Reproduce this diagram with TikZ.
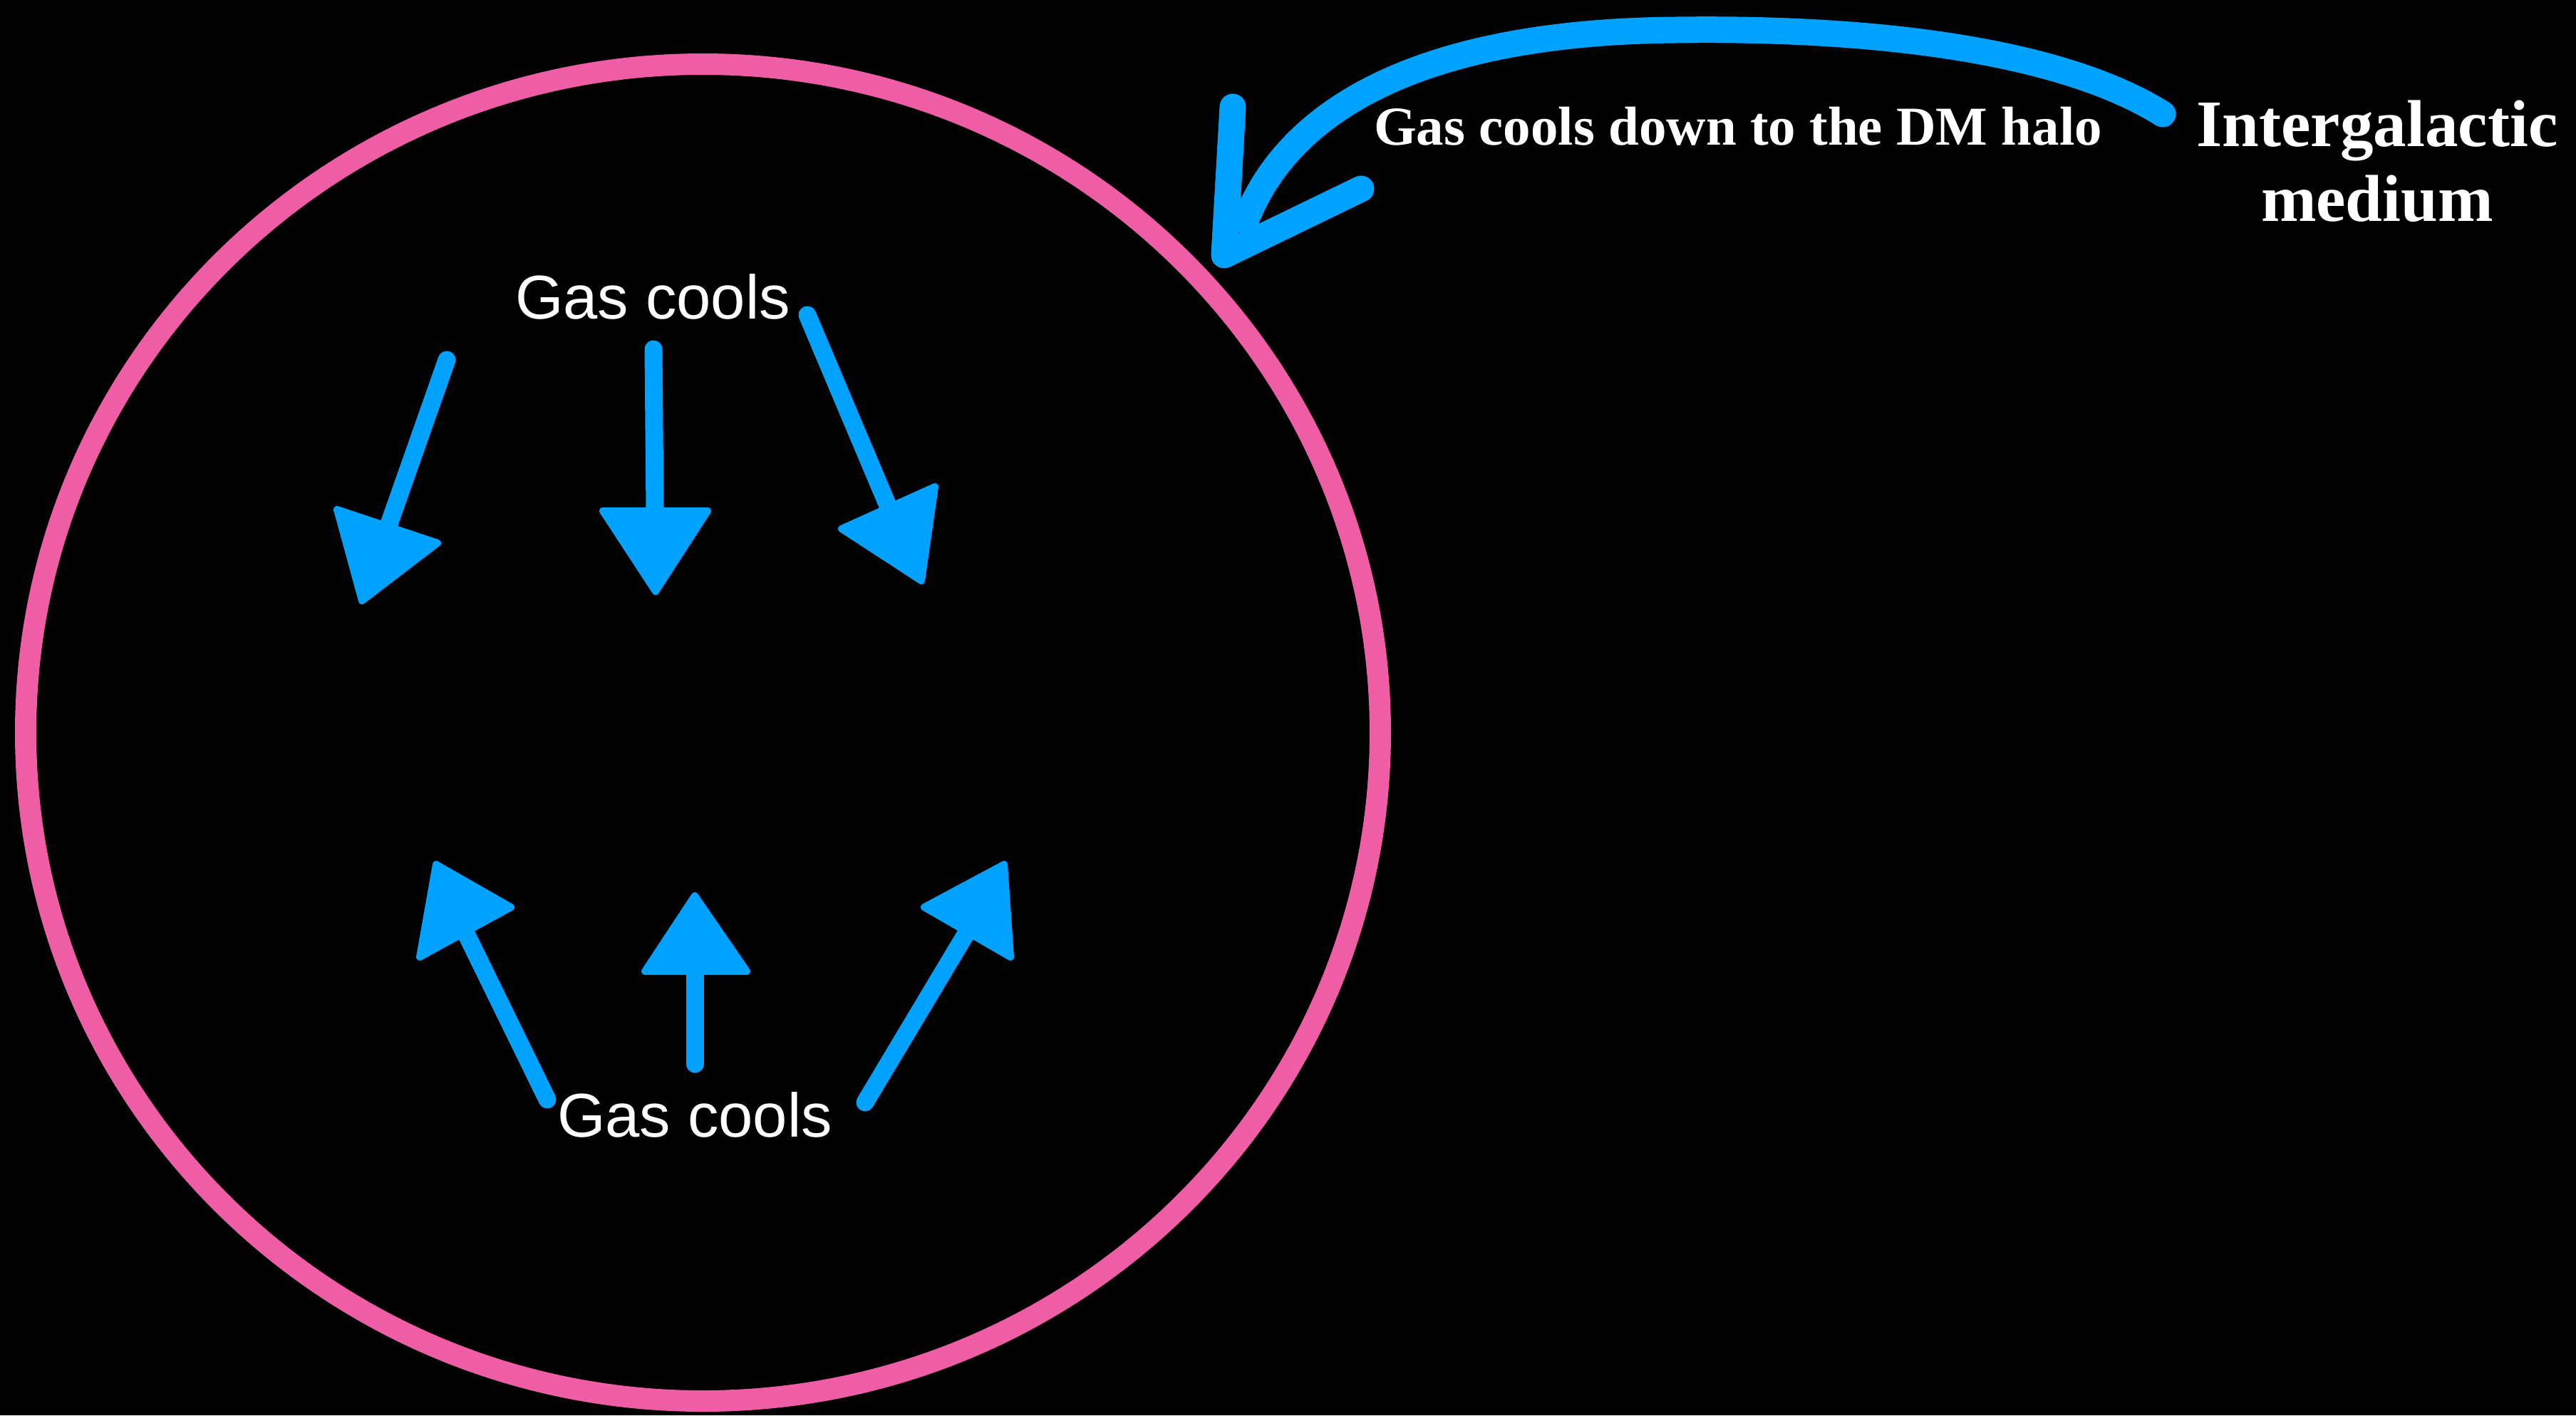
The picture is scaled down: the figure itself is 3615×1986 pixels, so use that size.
\documentclass[tikz,border=0pt]{standalone}
\usepackage{fontspec}
\setmainfont{Liberation Serif}
\setsansfont{Liberation Sans}
\definecolor{chalkblue}{HTML}{00A2FF}
\definecolor{chalkpink}{HTML}{EE5DA6}
\begin{document}
\begin{tikzpicture}[x=0.1mm,y=-0.1mm,
  shaft/.style={draw=chalkblue,line width=2.5mm,line cap=round},
  headtri/.style={draw=chalkblue,fill=chalkblue,line width=1mm,line join=round},
  bigarrow/.style={draw=chalkblue,line width=3.7mm,line cap=round,line join=round},
  sanslabel/.style={text=white,font=\sffamily\fontsize{24.7}{29}\selectfont,anchor=base,inner sep=0pt},
  seriflabel/.style={text=white,font=\rmfamily\bfseries\fontsize{21.9}{26}\selectfont,anchor=base,inner sep=0pt},
  imlabel/.style={text=white,font=\rmfamily\bfseries\fontsize{26.5}{30}\selectfont,anchor=base,inner sep=0pt}]
\fill[black] (0,0) rectangle (3615,1986);
\useasboundingbox (0,0) rectangle (3615,1986);
% halo
\draw[chalkpink,line width=3mm] (986.5,1028) ellipse [x radius=950.5,y radius=938];
% labels
\node[sanslabel] (gtop) at (916,447) {Gas cools};
\node[sanslabel] (gbot) at (975,1595) {Gas cools};
\node[seriflabel] (gdm) at (2439,203) {Gas cools down to the DM halo};
\node[imlabel] (igm1) at (3336,205) {Intergalactic};
\node[imlabel] (igm2) at (3336,310) {medium};
% big curved arrow
\coordinate (bstart) at (3035,160);
\coordinate (bmid) at (2352,42);
\coordinate (bend) at (1748,310);
\coordinate (bl) at (1730,150);
\coordinate (btip) at (1718,358);
\coordinate (br) at (1910,265);
\draw[bigarrow] (bstart) .. controls (2900,75) and (2650,38) .. (bmid)
  .. controls (2000,45) and (1810,150) .. (bend);
\draw[bigarrow] (bl) -- (btip) -- (br);
% top arrows (downward)
\coordinate (t1a) at (627,505); \coordinate (t1b) at (545,738);
\draw[shaft] (t1a) -- (t1b);
\draw[headtri] (473,715) -- (614,762) -- (508,843) -- cycle;
\coordinate (t2a) at (917,490); \coordinate (t2b) at (919,717);
\draw[shaft] (t2a) -- (t2b);
\draw[headtri] (846,717) -- (993,717) -- (920,830) -- cycle;
\coordinate (t3a) at (1133,442); \coordinate (t3b) at (1247,712);
\draw[shaft] (t3a) -- (t3b);
\draw[headtri] (1181,742) -- (1312,683) -- (1293,815) -- cycle;
% bottom arrows (upward)
\coordinate (u1a) at (768,1543); \coordinate (u1b) at (653,1308);
\draw[shaft] (u1a) -- (u1b);
\draw[headtri] (612,1213) -- (717,1273) -- (589,1343) -- cycle;
\coordinate (u2a) at (975,1493); \coordinate (u2b) at (975,1363);
\draw[shaft] (u2a) -- (u2b);
\draw[headtri] (975,1257) -- (1048,1363) -- (905,1363) -- cycle;
\coordinate (u3a) at (1214,1547); \coordinate (u3b) at (1357,1308);
\draw[shaft] (u3a) -- (u3b);
\draw[headtri] (1409,1213) -- (1418,1343) -- (1297,1273) -- cycle;
\end{tikzpicture}
\end{document}
